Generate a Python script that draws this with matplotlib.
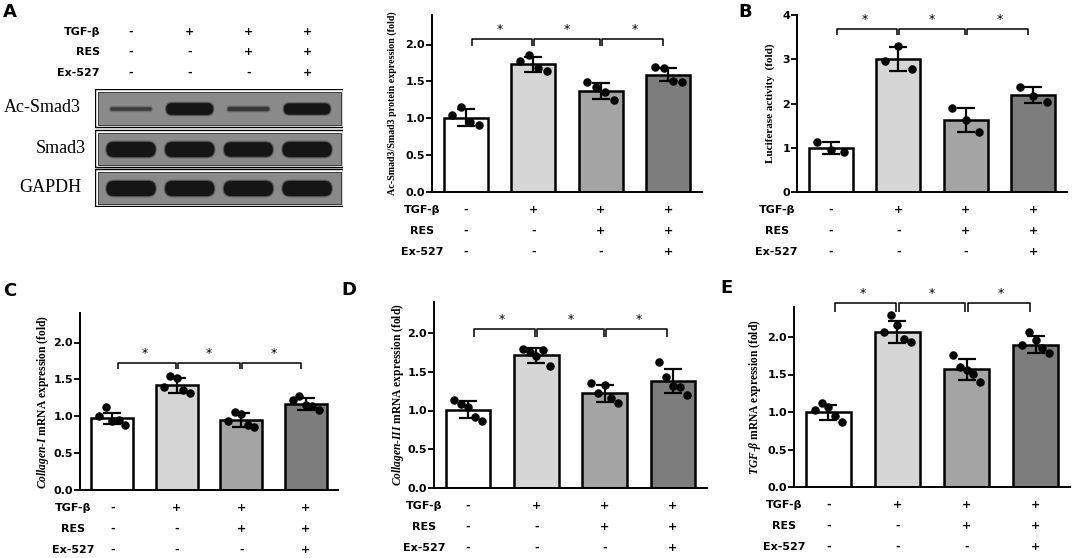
import numpy as np
import matplotlib
matplotlib.use('Agg')
import matplotlib.pyplot as plt
import matplotlib.transforms as mtransforms
from matplotlib.patches import Rectangle, FancyBboxPatch

W, H = 1072, 558

# ---------------- data ----------------
row_names = ['TGF-β', 'RES', 'Ex-527']
signs = [['-', '+', '+', '+'],
         ['-', '-', '+', '+'],
         ['-', '-', '-', '+']]
bar_colors = ['#ffffff', '#d6d6d6', '#a4a4a4', '#7d7d7d']
sig_pairs = [(0, 1), (1, 2), (2, 3)]

# western blot (relative band strength per lane)
blot_names = ['Ac-Smad3', 'Smad3', 'GAPDH']
ac_smad3_band = [0.15, 0.75, 0.2, 0.7]
smad3_band = [1.0, 1.0, 0.95, 1.0]
gapdh_band = [1.0, 1.0, 1.0, 1.0]

# A: Ac-Smad3/Smad3
a_mean = [1.01, 1.73, 1.37, 1.59]
a_sd = [0.11, 0.10, 0.11, 0.09]
a_dots = [[1.04, 1.15, 0.95, 0.91], [1.77, 1.86, 1.68, 1.64],
          [1.49, 1.42, 1.35, 1.25], [1.70, 1.68, 1.50, 1.49]]
# B: luciferase
b_mean = [1.00, 3.00, 1.62, 2.19]
b_sd = [0.13, 0.27, 0.27, 0.18]
b_dots = [[1.13, 0.96, 0.90], [2.95, 3.29, 2.78],
          [1.89, 1.62, 1.35], [2.38, 2.18, 2.03]]
# C: Collagen-I
c_mean = [0.97, 1.42, 0.95, 1.17]
c_sd = [0.08, 0.10, 0.09, 0.08]
c_dots = [[1.00, 1.12, 0.93, 0.95, 0.88], [1.40, 1.55, 1.52, 1.36, 1.32],
          [0.93, 1.06, 1.03, 0.88, 0.85], [1.22, 1.28, 1.15, 1.14, 1.09]]
# D: Collagen-III
d_mean = [1.01, 1.71, 1.22, 1.38]
d_sd = [0.11, 0.10, 0.11, 0.16]
d_dots = [[1.13, 1.08, 1.05, 0.92, 0.87], [1.80, 1.76, 1.70, 1.78, 1.57],
          [1.35, 1.23, 1.33, 1.16, 1.10], [1.63, 1.43, 1.31, 1.30, 1.20]]
# E: TGF-beta
e_mean = [1.00, 2.07, 1.57, 1.90]
e_sd = [0.10, 0.15, 0.14, 0.11]
e_dots = [[1.03, 1.12, 1.07, 0.95, 0.87], [2.07, 2.29, 2.16, 1.98, 1.93],
          [1.76, 1.60, 1.56, 1.51, 1.40], [1.89, 2.07, 1.96, 1.86, 1.79]]

ratio_ticks = [0.0, 0.5, 1.0, 1.5, 2.0]
ratio_labels = ['0.0', '0.5', '1.0', '1.5', '2.0']
luc_ticks = [0, 1, 2, 3, 4]
luc_labels = ['0', '1', '2', '3', '4']

# ---------------- style ----------------
plt.rcParams['font.family'] = ['DejaVu Sans']
plt.rcParams['mathtext.fontset'] = 'custom'
plt.rcParams['mathtext.it'] = 'Liberation Serif:italic:bold'
plt.rcParams['mathtext.rm'] = 'Liberation Serif:bold'

SERIF = 'Liberation Serif'
fig = plt.figure(figsize=(W / 100, H / 100), dpi=100)


def px(x, y):
    return x / W, 1 - y / H


def bar_panel(rect, mean, sd, dots, ymax, ticks, tlabels, ylabel, ylab_x, ylab_fs,
              br_y, br_drop, lab_x, lab_ha):
    x0, yt, x1, yb = rect
    ax = fig.add_axes([x0 / W, 1 - yb / H, (x1 - x0) / W, (yb - yt) / H])
    xs = np.arange(4)
    ax.bar(xs, mean, width=0.65, color=bar_colors, edgecolor='black', linewidth=1.8, zorder=2)
    ax.errorbar(xs, mean, yerr=sd, fmt='none', ecolor='black', elinewidth=1.6,
                capsize=6.5, capthick=1.6, zorder=3)
    for i, vals in enumerate(dots):
        off = np.linspace(-0.2, 0.2, len(vals))
        ax.scatter(i + off, vals, s=26, color='black', zorder=4, clip_on=False)

    ax.set_xlim(-0.5, 3.5)
    ax.set_ylim(0, ymax)
    ax.set_xticks([])
    ax.set_yticks(ticks)
    ax.set_yticklabels(tlabels, fontweight='bold', fontsize=8)
    ax.tick_params(axis='y', length=4, width=1.3, pad=1)
    for s in ['top', 'right']:
        ax.spines[s].set_visible(False)
    for s in ['left', 'bottom']:
        ax.spines[s].set_linewidth(1.4)

    # significance brackets
    for a, b in sig_pairs:
        xa = a + (0.09 if a == 0 else 0.015)
        xb = b - (0.08 if b == 3 else 0.015)
        ax.plot([xa, xa, xb, xb], [br_y - br_drop, br_y, br_y, br_y - br_drop],
                color='black', lw=1.1, clip_on=False, solid_capstyle='butt')
        ax.annotate('*', ((a + b) / 2, br_y), xytext=(0, 2.5), textcoords='offset points',
                    ha='center', va='bottom', fontsize=9, annotation_clip=False)

    # treatment table
    h_px = yb - yt
    tr = mtransforms.blended_transform_factory(ax.transData, ax.transAxes)
    for r, (name, row) in enumerate(zip(row_names, signs)):
        yy = -(18 + 21 * r) / h_px
        ax.text(lab_x, yy, name, transform=tr, ha=lab_ha, va='center',
                fontsize=8, fontweight='bold')
        for i, s in enumerate(row):
            ax.text(i, yy, s, transform=tr, ha='center', va='center',
                    fontsize=8, fontweight='bold')

    fx, fy = px(ylab_x, (yt + yb) / 2)
    fig.text(fx, fy, ylabel, rotation=90, ha='center', va='center',
             family=SERIF, fontweight='bold', fontsize=ylab_fs)
    return ax


# ---------------- panel A blot ----------------
bx = fig.add_axes([95 / W, 1 - 207 / H, 248 / W, 118 / H])
bx.set_xlim(0, 248)
bx.set_ylim(118, 0)
bx.axis('off')
box_tops = [0, 41, 80]
box_h = [38, 37, 37]
lane_x = 36 + 58.7 * np.arange(4)
bands = [ac_smad3_band, smad3_band, gapdh_band]
for top, hh, strength in zip(box_tops, box_h, bands):
    bx.add_patch(Rectangle((0, top), 248, hh, fc='white', ec='black', lw=1.0))
    bx.add_patch(Rectangle((2.5, top + 2.5), 243, hh - 5, fc='#8a8a8a', ec='#3a3a3a', lw=0.7))
    yc = top + hh / 2 + 1
    for x, v in zip(lane_x, strength):
        bh = 1.5 + 13.5 * v
        bw = 40 + 9 * v
        for grow, alpha in [(3.0, 0.25), (1.2, 0.5), (0, 0.9)]:
            hb = bh + grow
            wb = bw + grow
            bx.add_patch(FancyBboxPatch((x - wb / 2, yc - hb / 2), wb, hb,
                                        boxstyle=f"round,pad=0,rounding_size={hb / 2}",
                                        fc='#111111', ec='none', alpha=alpha * (0.35 + 0.65 * min(1, v / 0.7))))

for name, lx, ly in zip(blot_names, [42, 61, 50], [108, 148, 187]):
    fig.text(*px(lx, ly), name, family=SERIF, fontsize=13, ha='center', va='center')

for r, (name, row) in enumerate(zip(row_names, signs)):
    yy = [32, 52, 73][r]
    fig.text(*px(100, yy), name, ha='right', va='center', fontsize=8, fontweight='bold')
    for i, s in enumerate(row):
        fig.text(*px(95 + lane_x[i], yy), s, ha='center', va='center', fontsize=8, fontweight='bold')

# ---------------- bar panels ----------------
bar_panel((432, 15, 702, 192), a_mean, a_sd, a_dots, 2.4, ratio_ticks, ratio_labels,
          'Ac-Smad3/Smad3 protein expression (fold)', 392, 7.2, 2.07, 0.09, -0.65, 'center')
bar_panel((797, 15, 1067, 192), b_mean, b_sd, b_dots, 4.0, luc_ticks, luc_labels,
          'Luciferase activity  (fold)', 770, 8, 3.68, 0.14, -0.8, 'center')
bar_panel((80, 313, 338, 490), c_mean, c_sd, c_dots, 2.4, ratio_ticks, ratio_labels,
          r'$\mathit{Collagen}$-$\mathit{I}$ mRNA expression (fold)', 43, 8.3,
          1.72, 0.08, -0.6, 'center')
bar_panel((434, 302, 707, 488), d_mean, d_sd, d_dots, 2.4, ratio_ticks, ratio_labels,
          r'$\mathit{Collagen}$-$\mathit{III}$ mRNA expression (fold)', 398, 8.3,
          2.05, 0.10, -0.65, 'center')
bar_panel((794, 307, 1070, 487), e_mean, e_sd, e_dots, 2.4, ratio_ticks, ratio_labels,
          r'$\mathit{TGF}$-$\mathit{β}$ mRNA expression (fold)', 755, 8.3,
          2.45, 0.12, -0.64, 'center')

# panel letters
for letter, lx, ly in [('A', 10, 12), ('B', 745, 12), ('C', 10, 291), ('D', 349, 290), ('E', 726, 288)]:
    fig.text(*px(lx, ly), letter, ha='center', va='center', fontsize=13, fontweight='bold')

fig.savefig('out.png', dpi=100)
